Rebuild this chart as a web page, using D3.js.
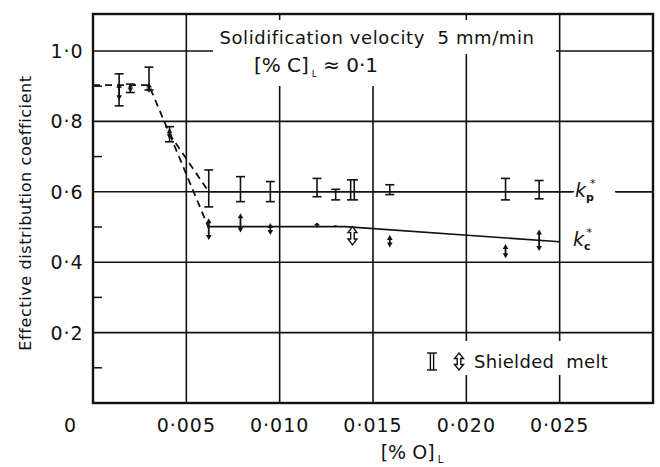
<!DOCTYPE html>
<html>
<head>
<meta charset="utf-8">
<script src="https://cdn.jsdelivr.net/npm/d3@7"></script>
<style>
  html, body { margin: 0; padding: 0; background: #fff; }
  svg { display: block; }
  text { font-family: "DejaVu Sans", "Open Sans", sans-serif; fill: #111; white-space: pre; }
</style>
</head>
<body>
<svg id="chart" width="660" height="467"></svg>
<script>
// Oxygen content of the melt, [% O]
const oxygen = [0.0014, 0.0020, 0.0030, 0.0041, 0.0062, 0.0079, 0.0095, 0.0120, 0.0130, 0.0139, 0.0159, 0.0221, 0.0239];
// runs made with a shielded melt
const shielded = [false, false, false, false, false, false, false, false, false, true, false, false, false];
// k_p* scatter bands (low / high)
const kpLow  = [0.844, 0.882, 0.889, 0.742, 0.557, 0.572, 0.572, 0.586, 0.577, 0.577, 0.592, 0.577, 0.580];
const kpHigh = [0.935, 0.906, 0.954, 0.785, 0.662, 0.643, 0.629, 0.638, 0.607, 0.634, 0.620, 0.638, 0.632];
// k_c* scatter bands (low / high)
const kcLow  = [0.860, 0.885, 0.881, 0.750, 0.463, 0.484, 0.477, 0.497, 0.499, 0.449, 0.442, 0.411, 0.432];
const kcHigh = [0.910, 0.905, 0.909, 0.780, 0.525, 0.539, 0.511, 0.513, 0.505, 0.501, 0.477, 0.452, 0.493];

// fitted curves: dashed at low oxygen, solid above
const kpDashX = [0, 0.0030, 0.0041, 0.0062];
const kpDashY = [0.903, 0.903, 0.764, 0.600];
const kcDashX = [0.0041, 0.0062];
const kcDashY = [0.764, 0.497];
const kpFitX = [0.0062, 0.0300];
const kpFitY = [0.600, 0.600];
const kcFitX = [0.0062, 0.0135, 0.0250];
const kcFitY = [0.501, 0.501, 0.458];

const xTicks = [0.005, 0.010, 0.015, 0.020, 0.025];
const xTickLabels = ["0·005", "0·010", "0·015", "0·020", "0·025"];
const yTicks = [0.2, 0.4, 0.6, 0.8, 1.0];
const yTickLabels = ["0·2", "0·4", "0·6", "0·8", "1·0"];
const yMinor = [0.1, 0.3, 0.5, 0.7, 0.9];

const svg = d3.select("#chart");
const L = 93, R = 653, T = 14, B = 403;
const x = d3.scaleLinear().domain([0, 0.030]).range([L, R]);
const y = d3.scaleLinear().domain([0, 1.105]).range([B, T]);

// grid
const grid = svg.append("g").attr("stroke", "#111").attr("stroke-width", 1.6);
grid.selectAll("line.v").data(xTicks).join("line")
  .attr("x1", d => x(d)).attr("x2", d => x(d)).attr("y1", T).attr("y2", B);
grid.selectAll("line.h").data(yTicks).join("line")
  .attr("x1", L).attr("x2", R).attr("y1", d => y(d)).attr("y2", d => y(d));

// minor ticks on the left axis
svg.append("g").attr("stroke", "#111").attr("stroke-width", 1.5)
  .selectAll("line").data(yMinor).join("line")
  .attr("x1", L).attr("x2", L + 9).attr("y1", d => y(d)).attr("y2", d => y(d));

// white patches behind annotation texts
svg.append("rect").attr("x", 213).attr("y", T + 1).attr("width", 343).attr("height", 39).attr("fill", "#fff");
svg.append("rect").attr("x", 240).attr("y", 52).attr("width", 146).attr("height", 34).attr("fill", "#fff");
svg.append("rect").attr("x", 420).attr("y", 341).attr("width", 192).attr("height", 34).attr("fill", "#fff");
svg.append("rect").attr("x", 572).attr("y", 172).attr("width", 44).attr("height", 40).attr("fill", "#fff");
// short ticks at the top edge above the text patch
svg.append("g").attr("stroke", "#111").attr("stroke-width", 1.5)
  .selectAll("line").data([0.010, 0.020]).join("line")
  .attr("x1", d => x(d)).attr("x2", d => x(d)).attr("y1", T).attr("y2", T + 6);

// frame
svg.append("rect").attr("x", L).attr("y", T).attr("width", R - L).attr("height", B - T)
  .attr("fill", "none").attr("stroke", "#111").attr("stroke-width", 2.4);

// fitted curves
const line = d3.line().x(d => x(d[0])).y(d => y(d[1]));
const curves = svg.append("g").attr("fill", "none").attr("stroke", "#111");
curves.append("path").attr("d", line(d3.zip(kpDashX, kpDashY))).attr("stroke-width", 1.8).attr("stroke-dasharray", "7,5");
curves.append("path").attr("d", line(d3.zip(kcDashX, kcDashY))).attr("stroke-width", 1.8).attr("stroke-dasharray", "7,5");
curves.append("path").attr("d", line(d3.zip(kpFitX, kpFitY))).attr("stroke-width", 1.6);
curves.append("path").attr("d", line(d3.zip(kcFitX, kcFitY))).attr("stroke-width", 1.6);

// gap in the k_p* line where its label sits
svg.append("rect").attr("x", 574).attr("y", y(0.600) - 2).attr("width", 41).attr("height", 4).attr("fill", "#fff");

const pts = oxygen.map((o, i) => ({o, s: shielded[i], pl: kpLow[i], ph: kpHigh[i], cl: kcLow[i], ch: kcHigh[i]}));

// I-bars for k_p*
const ib = svg.append("g").attr("stroke", "#111").attr("fill", "none").attr("stroke-width", 1.6);
pts.forEach(p => {
  const cx = x(p.o), y1 = y(p.ph), y2 = y(p.pl);
  const hw = p.s ? 5.5 : 4.5;
  const g = ib.append("g");
  if (p.s) {
    g.append("line").attr("x1", cx - 1.8).attr("x2", cx - 1.8).attr("y1", y1).attr("y2", y2);
    g.append("line").attr("x1", cx + 1.8).attr("x2", cx + 1.8).attr("y1", y1).attr("y2", y2);
  } else {
    g.append("line").attr("x1", cx).attr("x2", cx).attr("y1", y1).attr("y2", y2);
  }
  g.append("line").attr("x1", cx - hw).attr("x2", cx + hw).attr("y1", y1).attr("y2", y1);
  g.append("line").attr("x1", cx - hw).attr("x2", cx + hw).attr("y1", y2).attr("y2", y2);
});

// double arrows for k_c*
function arrowPath(cx, y1, y2, hw, hh, sw) {
  // outline double arrow: heads at y1 (top) and y2 (bottom)
  return `M${cx},${y1} L${cx + hw},${y1 + hh} L${cx + sw},${y1 + hh} L${cx + sw},${y2 - hh} L${cx + hw},${y2 - hh} ` +
         `L${cx},${y2} L${cx - hw},${y2 - hh} L${cx - sw},${y2 - hh} L${cx - sw},${y1 + hh} L${cx - hw},${y1 + hh} Z`;
}
const ar = svg.append("g");
pts.forEach(p => {
  const cx = x(p.o), y1 = y(p.ch), y2 = y(p.cl);
  const len = y2 - y1;
  const hh = Math.min(5, len / 2.2);
  if (p.s) {
    ar.append("path").attr("d", arrowPath(cx, y1, y2, 4.5, Math.min(6, len / 2.5), 1.8))
      .attr("fill", "#fff").attr("stroke", "#111").attr("stroke-width", 1.4);
  } else {
    ar.append("line").attr("x1", cx).attr("x2", cx).attr("y1", y1 + hh * 0.5).attr("y2", y2 - hh * 0.5)
      .attr("stroke", "#111").attr("stroke-width", 1.8);
    ar.append("path").attr("d", `M${cx},${y1} L${cx + 2.8},${y1 + hh} L${cx - 2.8},${y1 + hh} Z`).attr("fill", "#111");
    ar.append("path").attr("d", `M${cx},${y2} L${cx + 2.8},${y2 - hh} L${cx - 2.8},${y2 - hh} Z`).attr("fill", "#111");
  }
});

// axis labels
const tl = svg.append("g").style("font-size", "19px");
tl.selectAll("text.x").data(xTicks).join("text")
  .attr("x", d => x(d)).attr("y", 432).attr("text-anchor", "middle")
  .attr("letter-spacing", 1)
  .text((d, i) => xTickLabels[i]);
tl.selectAll("text.y").data(yTicks).join("text")
  .attr("x", 67).attr("y", d => y(d) + 7).attr("text-anchor", "middle")
  .attr("letter-spacing", 1)
  .text((d, i) => yTickLabels[i]);
tl.append("text").attr("x", 70).attr("y", 432).attr("text-anchor", "middle").text("0");

// axis titles
svg.append("text").attr("transform", "translate(31,213) rotate(-90)")
  .attr("text-anchor", "middle").style("font-size", "16px").attr("letter-spacing", 0.6)
  .text("Effective distribution coefficient");

const xt = svg.append("text").attr("x", 412).attr("y", 459).attr("text-anchor", "middle").style("font-size", "19px");
xt.append("tspan").text("[% O]");
xt.append("tspan").attr("dy", 4).style("font-size", "10px").text(" L");

// annotation
svg.append("text").attr("x", 377).attr("y", 44).attr("text-anchor", "middle").style("font-size", "18px")
  .attr("letter-spacing", 0.6)
  .text("Solidification velocity  5 mm/min");
const ann = svg.append("text").attr("x", 316).attr("y", 72).attr("text-anchor", "middle").style("font-size", "20px");
ann.append("tspan").text("[% C]");
ann.append("tspan").attr("dy", 5).style("font-size", "9px").text(" L");
ann.append("tspan").attr("dy", -5).text(" ≈ 0·1");

// curve labels
function kLabel(xp, yp, sub) {
  const t = svg.append("text").attr("x", xp).attr("y", yp).style("font-size", "19px").style("font-style", "italic");
  t.append("tspan").text("k");
  t.append("tspan").attr("dy", 4).style("font-size", "11px").style("font-style", "normal").style("font-weight", "bold").text(sub);
  t.append("tspan").attr("dy", -14).attr("dx", -4).style("font-size", "11px").style("font-style", "normal").text("*");
}
kLabel(575, 197, "p");
kLabel(573, 246, "c");

// legend
const lg = svg.append("g");
const lx = 432, ly1 = 353, ly2 = 370;
lg.append("g").attr("stroke", "#111").attr("stroke-width", 1.4).call(g => {
  g.append("line").attr("x1", lx - 1.6).attr("x2", lx - 1.6).attr("y1", ly1).attr("y2", ly2);
  g.append("line").attr("x1", lx + 1.6).attr("x2", lx + 1.6).attr("y1", ly1).attr("y2", ly2);
  g.append("line").attr("x1", lx - 5).attr("x2", lx + 5).attr("y1", ly1).attr("y2", ly1);
  g.append("line").attr("x1", lx - 5).attr("x2", lx + 5).attr("y1", ly2).attr("y2", ly2);
});
lg.append("path").attr("d", arrowPath(459, ly1, ly2, 4.5, 5.5, 1.8))
  .attr("fill", "#fff").attr("stroke", "#111").attr("stroke-width", 1.4);
lg.append("text").attr("x", 474).attr("y", 368).style("font-size", "18px").attr("letter-spacing", 0.3).text("Shielded  melt");
</script>
</body>
</html>
